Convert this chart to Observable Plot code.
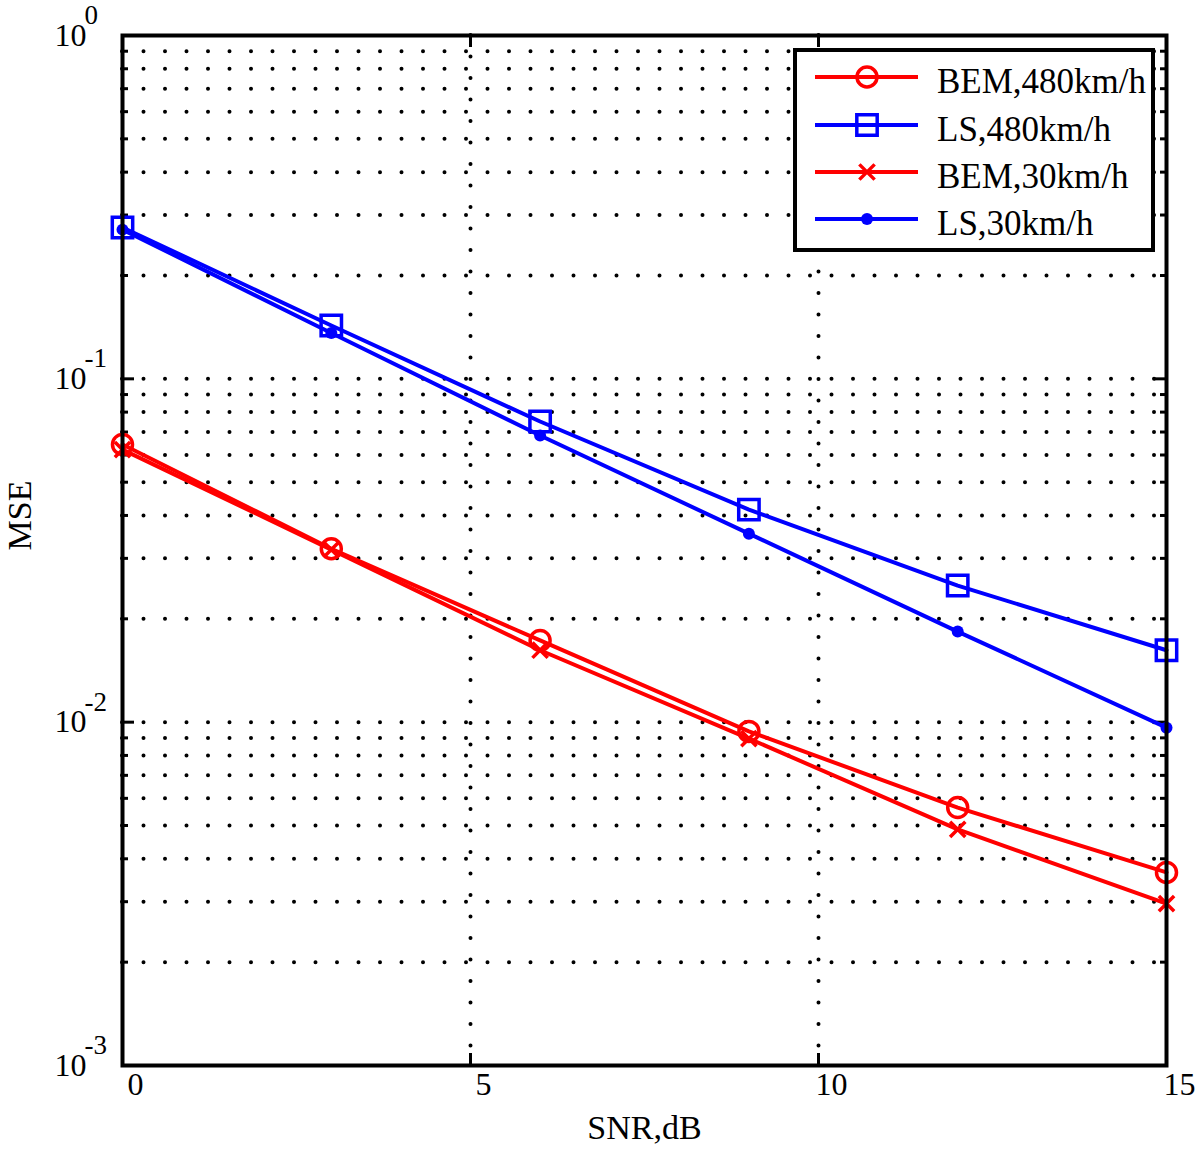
<!DOCTYPE html>
<html>
<head>
<meta charset="utf-8">
<script src="https://cdn.jsdelivr.net/npm/d3@7"></script>
<script src="https://cdn.jsdelivr.net/npm/@observablehq/plot@0.6"></script>
<style>
  html, body { margin: 0; padding: 0; background: #fff; }
  #chart { width: 1200px; height: 1161px; }
</style>
</head>
<body>
<div id="chart"></div>
<script>
// ---- data ----
const snr = [0, 3, 6, 9, 12, 15];
const bem480 = [0.0644, 0.0320, 0.0173, 0.0094, 0.00564, 0.00365];
const ls480  = [0.276, 0.143, 0.0751, 0.0416, 0.0250, 0.0162];
const bem30  = [0.0622, 0.0318, 0.0162, 0.00896, 0.00487, 0.00296];
const ls30   = [0.272, 0.136, 0.0684, 0.0354, 0.01836, 0.00964];
const seriesNames = ["BEM,480km/h", "LS,480km/h", "BEM,30km/h", "LS,30km/h"];
const seriesValues = [bem480, ls480, bem30, ls30];
const seriesColors = ["#ff0000", "#0000ff", "#ff0000", "#0000ff"];
const seriesSymbols = ["circle", "square", "times", "dot"];
const xTickValues = [0, 5, 10, 15];
const xTickLabels = ["0", "5", "10", "15"];
const yTickValues = [1e-3, 1e-2, 1e-1, 1];
const yTickExps = ["-3", "-2", "-1", "0"];
const xLabel = "SNR,dB";
const yLabel = "MSE";

// ---- layout ----
const W = 1200, H = 1161;
const mL = 122, mR = 34, mT = 35, mB = 96;
const innerW = W - mL - mR, innerH = H - mT - mB;
const font = "'Liberation Serif', 'Times New Roman', serif";
const lineW = 4, markW = 3.5;

const rows = [];
seriesValues.forEach((vals, i) => vals.forEach((v, j) => rows.push({series: seriesNames[i], idx: i, x: snr[j], y: v})));

// log grid / minor tick values
const decades = [1e-3, 1e-2, 1e-1];
const gridY = [];
decades.forEach(d => { for (let m = 1; m <= 9; m++) { const v = +(m * d).toPrecision(3); if (v > 1e-3) gridY.push(v); } });
const majorY = yTickValues.filter(v => v > 1e-3 && v < 1);
const minorY = gridY.filter(v => !majorY.includes(v));
const innerX = xTickValues.filter(v => v > 0 && v < 15);

const dotted = {stroke: "black", strokeWidth: 4, strokeDasharray: "0,21.5", strokeLinecap: "round"};

const marks = [
  Plot.ruleY(gridY, {y: d => d, ...dotted}),
  Plot.ruleX(innerX, {x: d => d, ...dotted}),
  // inward ticks
  Plot.tickY(minorY, {y: d => d, stroke: "black", strokeWidth: 3, insetRight: innerW - 6}),
  Plot.tickY(minorY, {y: d => d, stroke: "black", strokeWidth: 3, insetLeft: innerW - 6}),
  Plot.tickY(majorY, {y: d => d, stroke: "black", strokeWidth: 3, insetRight: innerW - 12}),
  Plot.tickY(majorY, {y: d => d, stroke: "black", strokeWidth: 3, insetLeft: innerW - 12}),
  Plot.tickX(innerX, {x: d => d, stroke: "black", strokeWidth: 3, insetTop: innerH - 12}),
  Plot.tickX(innerX, {x: d => d, stroke: "black", strokeWidth: 3, insetBottom: innerH - 12}),
  // series
  Plot.line(rows, {x: "x", y: "y", z: "series", stroke: d => seriesColors[d.idx], strokeWidth: lineW}),
  Plot.dot(rows.filter(d => d.idx === 0), {x: "x", y: "y", symbol: "circle", r: 10, stroke: seriesColors[0], strokeWidth: markW, fill: "none"}),
  Plot.dot(rows.filter(d => d.idx === 1), {x: "x", y: "y", symbol: "square", r: 11.5, stroke: seriesColors[1], strokeWidth: markW, fill: "none"}),
  Plot.dot(rows.filter(d => d.idx === 2), {x: "x", y: "y", symbol: "times", r: 7, stroke: seriesColors[2], strokeWidth: markW}),
  Plot.dot(rows.filter(d => d.idx === 3), {x: "x", y: "y", symbol: "circle", r: 6, fill: seriesColors[3], stroke: "none"}),
  Plot.frame({stroke: "black", strokeWidth: 4}),
  // tick labels
  Plot.text(xTickValues, {x: d => d, frameAnchor: "bottom", dy: 29, dx: 13, text: (d, i) => xTickLabels[i], fontSize: 32, fill: "black"}),
  Plot.text(yTickValues, {y: d => d, frameAnchor: "left", dx: -36, textAnchor: "end", text: () => "10", fontSize: 32, fill: "black"}),
  Plot.text(yTickValues, {y: d => d, frameAnchor: "left", dx: -38, dy: -20, textAnchor: "start", text: (d, i) => yTickExps[i], fontSize: 27, fill: "black"}),
  // axis titles
  Plot.text([xLabel], {frameAnchor: "bottom", dy: 73, text: d => d, fontSize: 34, fill: "black"}),
  Plot.text([yLabel], {frameAnchor: "left", dx: -102, rotate: -90, text: d => d, fontSize: 34, fill: "black"})
];

const chart = Plot.plot({
  width: W, height: H,
  marginLeft: mL, marginRight: mR, marginTop: mT, marginBottom: mB,
  style: {fontFamily: font, background: "white", color: "black", overflow: "visible"},
  x: {domain: [0, 15], axis: null},
  y: {type: "log", domain: [1e-3, 1], axis: null},
  marks
});

// ---- legend ----
const svg = d3.select(chart);
const lg = svg.append("g").attr("font-family", font).attr("text-anchor", "start");
const box = {x: 795, y: 50, w: 358, h: 200};
lg.append("rect").attr("x", box.x).attr("y", box.y).attr("width", box.w).attr("height", box.h)
  .attr("fill", "white").attr("stroke", "black").attr("stroke-width", 4);
const rowY = [77, 125, 172, 219];
seriesNames.forEach((name, i) => {
  const y = rowY[i];
  const c = seriesColors[i];
  lg.append("line").attr("x1", 815).attr("x2", 918).attr("y1", y).attr("y2", y)
    .attr("stroke", c).attr("stroke-width", lineW);
  const sym = seriesSymbols[i];
  const g = lg.append("g").attr("transform", `translate(867,${y})`);
  if (sym === "circle") {
    g.append("circle").attr("r", 10).attr("fill", "none").attr("stroke", c).attr("stroke-width", markW);
  } else if (sym === "square") {
    g.append("path").attr("d", d3.symbol(d3.symbolSquare, Math.PI * 11.5 * 11.5)()).attr("fill", "none").attr("stroke", c).attr("stroke-width", markW);
  } else if (sym === "times") {
    g.append("path").attr("d", d3.symbol(d3.symbolTimes, Math.PI * 49)()).attr("fill", "none").attr("stroke", c).attr("stroke-width", markW);
  } else {
    g.append("circle").attr("r", 6).attr("fill", c);
  }
  lg.append("text").attr("x", 937).attr("y", y + 16).attr("font-size", 35).attr("fill", "black")
    .attr("text-anchor", "start").text(name);
});

document.getElementById("chart").appendChild(chart);
</script>
</body>
</html>
